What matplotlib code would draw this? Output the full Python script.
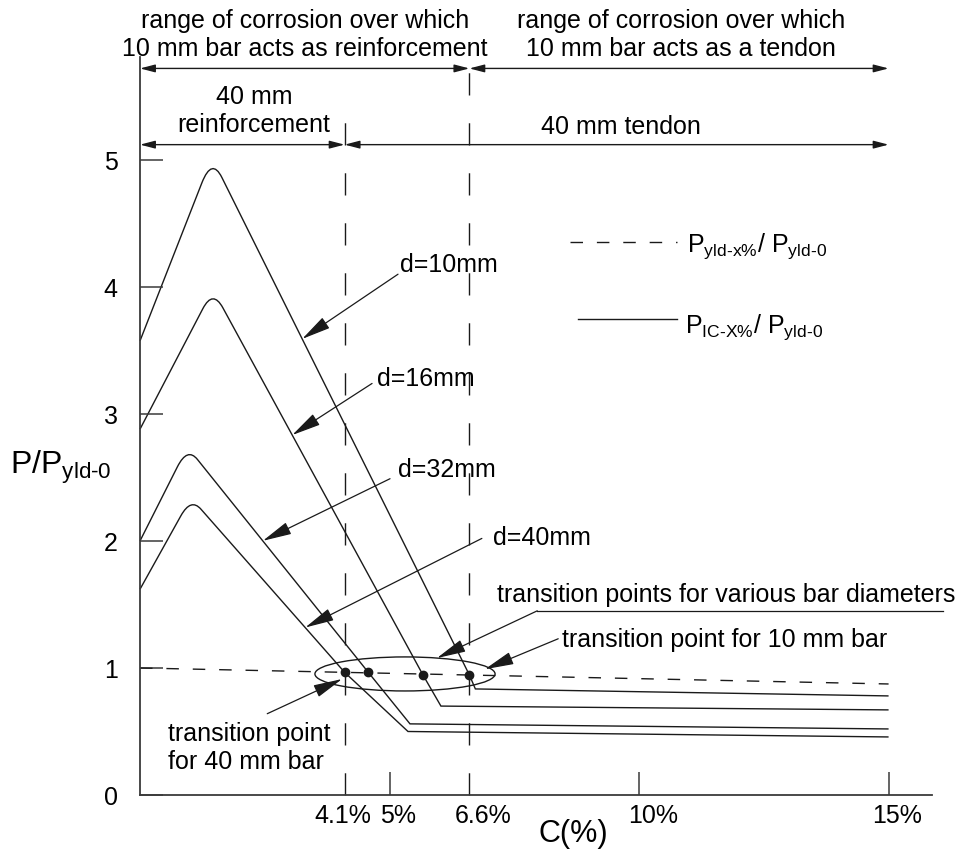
import numpy as np
import matplotlib
matplotlib.use("Agg")
import matplotlib.pyplot as plt
from matplotlib.path import Path
from matplotlib.patches import PathPatch, Ellipse
from matplotlib.transforms import ScaledTranslation

plt.rcParams['font.family'] = ['Liberation Sans', 'DejaVu Sans']
plt.rcParams['mathtext.fontset'] = 'custom'
plt.rcParams['mathtext.rm'] = 'Liberation Sans'
plt.rcParams['mathtext.it'] = 'Liberation Sans'
plt.rcParams['mathtext.default'] = 'regular'

# Corner points of the P_IC-x% / P_yld-0 curve for each bar diameter
bar_labels = ['d=10mm', 'd=16mm', 'd=32mm', 'd=40mm']
p_start = [3.575, 2.88, 2.0, 1.62]        # at C = 0
c_peak = [1.44, 1.46, 0.95, 1.02]
p_peak = [5.02, 3.98, 2.74, 2.34]
c_trans = [6.6, 5.67, 4.57, 4.1]          # transition points on the yield line
p_trans = [0.945, 0.945, 0.968, 0.966]
c_kink = [6.72, 6.03, 5.41, 5.37]
p_kink = [0.835, 0.70, 0.56, 0.50]
c_end = 15.0
p_end = [0.78, 0.67, 0.52, 0.457]

# Yield ratio P_yld-x% / P_yld-0
c_yld = [0.0, 15.0]
p_yld = [1.0, 0.874]

# Ticks
y_ticks = [0, 1, 2, 3, 4, 5]
x_ticks = [4.1, 5, 6.6, 10, 15]
x_tick_labels = ['4.1%', '5%', '6.6%', '10%', '15%']

# Corrosion ranges (dimension lines on top)
range_10 = [0.0, 6.6, 15.0]
range_40 = [0.0, 4.1, 15.0]

ink = '#1a1a1a'
fs = 18

fig = plt.figure(figsize=(9.59, 8.54), dpi=100)
ax = fig.add_axes([140 / 959, 1 - 796 / 854, 792 / 959, 738 / 854])
ax.set_xlim(0, 15.87)
ax.set_ylim(0, 5.81)
for s in ['top', 'right']:
    ax.spines[s].set_visible(False)
for s in ['left', 'bottom']:
    ax.spines[s].set_color('#3a3a3a')
    ax.spines[s].set_linewidth(1.3)

ax.set_yticks(y_ticks)
ax.set_yticklabels([str(v) for v in y_ticks])
ax.tick_params(axis='y', direction='in', length=16.5, width=1.1, color='#3a3a3a',
               labelsize=18, pad=16)
ax.set_xticks(x_ticks)
ax.set_xticklabels(x_tick_labels)
ax.tick_params(axis='x', direction='in', length=16.5, width=1.1, color='#3a3a3a',
               labelsize=18, pad=6)
for t, v in zip(ax.xaxis.get_major_ticks(), x_ticks):
    if v in (4.1, 6.6):
        t.tick1line.set_visible(False)
# nudge the tick labels sideways (pixels)
label_shift = [-2, 9, 14, 14, 8]
for lab, dx in zip(ax.get_xticklabels(), label_shift):
    lab.set_transform(lab.get_transform() + ScaledTranslation(dx / 100, 0, fig.dpi_scale_trans))


def curve_path(i, r=0.2):
    # straight segments with a rounded top at the peak
    x0, y0 = 0.0, p_start[i]
    xp, yp = c_peak[i], p_peak[i]
    xt, yt = c_trans[i], p_trans[i]
    a = (xp - r, yp - r * (yp - y0) / (xp - x0))
    b = (xp + r, yp + r * (yt - yp) / (xt - xp))
    verts = [(x0, y0), a, (xp, yp), b, (xt, yt), (c_kink[i], p_kink[i]), (c_end, p_end[i])]
    codes = [Path.MOVETO, Path.LINETO, Path.CURVE3, Path.CURVE3,
             Path.LINETO, Path.LINETO, Path.LINETO]
    return Path(verts, codes)


for i in range(len(bar_labels)):
    ax.add_patch(PathPatch(curve_path(i), fill=False, ec=ink, lw=1.0, clip_on=False))

# yield ratio line
ax.plot(c_yld, p_yld, color=ink, lw=1.0, dashes=(9, 10))
# transition points
ax.plot(c_trans, p_trans, 'o', color=ink, ms=6, zorder=5)

# boundaries of the reinforcement / tendon ranges
ax.plot([4.1, 4.1], [0, 5.32], color=ink, lw=1.0, dashes=(16, 20), clip_on=False)
ax.plot([6.6, 6.6], [0, 5.76], color=ink, lw=1.0, dashes=(16, 20), clip_on=False)

# ring round the transition points
ax.add_patch(Ellipse((5.31, 0.953), 3.61, 0.268, fill=False, ec=ink, lw=1.0))


def dim_arrow(x0, x1, y):
    ax.annotate('', xy=(x1, y), xytext=(x0, y), annotation_clip=False,
                arrowprops=dict(arrowstyle='<|-|>,head_length=0.5,head_width=0.13',
                                lw=1.0, color=ink, shrinkA=0, shrinkB=0, mutation_scale=18))


def leader(tip, tail):
    ax.annotate('', xy=tip, xytext=tail, annotation_clip=False,
                arrowprops=dict(arrowstyle='-|>,head_length=1.0,head_width=0.22',
                                lw=0.9, color=ink, shrinkA=0, shrinkB=0, mutation_scale=18))


for a, b in zip(range_10[:-1], range_10[1:]):
    dim_arrow(a, b, 5.72)
for a, b in zip(range_40[:-1], range_40[1:]):
    dim_arrow(a, b, 5.12)

ax.text(3.31, 5.99, 'range of corrosion over which\n10 mm bar acts as reinforcement',
        ha='center', va='center', fontsize=fs, linespacing=1.2, clip_on=False)
ax.text(10.84, 5.99, 'range of corrosion over which\n10 mm bar acts as a tendon',
        ha='center', va='center', fontsize=fs, linespacing=1.2, clip_on=False)
ax.text(2.28, 5.39, '40 mm\nreinforcement', ha='center', va='center', fontsize=fs,
        linespacing=1.2)
ax.text(9.64, 5.27, '40 mm tendon', ha='center', va='center', fontsize=fs)

# bar diameter labels, arrows point at the falling branch of each curve
tip_c = [3.25, 3.05, 2.46, 3.31]
tails = [(5.17, 4.10), (4.65, 3.24), (5.01, 2.49), (6.85, 2.02)]
text_xy = [(5.21, 4.18), (4.75, 3.28), (5.17, 2.57), (7.07, 2.03)]
for i, lab in enumerate(bar_labels):
    tip_p = np.interp(tip_c[i], [c_peak[i], c_trans[i]], [p_peak[i], p_trans[i]])
    leader((tip_c[i], tip_p), tails[i])
    ax.text(*text_xy[i], lab, ha='left', va='center', fontsize=fs)

# transition point notes
ax.text(7.15, 1.58, 'transition points for various bar diameters', ha='left',
        va='center', fontsize=fs, clip_on=False)
ax.plot([7.96, 16.09], [1.45, 1.45], color=ink, lw=0.9, clip_on=False)
leader((5.95, 1.078), (7.96, 1.45))

ax.text(8.46, 1.23, 'transition point for 10 mm bar', ha='left', va='center', fontsize=fs)
leader((6.91, 0.99), (8.38, 1.23))

ax.text(0.56, 0.378, 'transition point\nfor 40 mm bar', ha='left', va='center',
        fontsize=fs, linespacing=1.2)
leader((4.05, 0.913), (2.55, 0.64))

# key
ax.plot([8.62, 10.76], [4.35, 4.35], color=ink, lw=1.0, dashes=(9, 10))
ax.text(10.96, 4.33, r'$P_{\text{yld-x}\%}/\ P_{\text{yld-0}}$', ha='left', va='center',
        fontsize=fs)
ax.plot([8.78, 10.76], [3.75, 3.75], color=ink, lw=1.0)
ax.text(10.92, 3.69, r'$P_{\text{IC-X}\%}/\ P_{\text{yld-0}}$', ha='left', va='center',
        fontsize=fs)

# axis titles
ax.text(8.68, -0.3, 'C(%)', ha='center', va='center', fontsize=22, clip_on=False)
ax.text(-2.6, 2.59, r'$P/P_{\text{yld-0}}$', ha='left', va='center', fontsize=23,
        clip_on=False)

fig.savefig('out.png', dpi=100)
